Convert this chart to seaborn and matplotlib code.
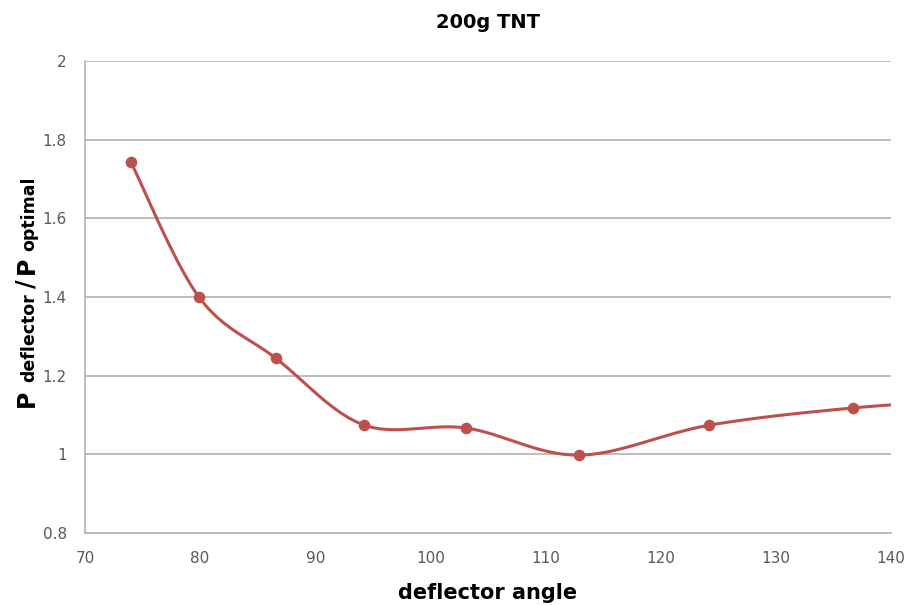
import matplotlib
matplotlib.use("Agg")
import matplotlib.pyplot as plt
import numpy as np
import pandas as pd
import seaborn as sns

# measured points (last one sits past the right edge, it only shapes the curve)
angle = [74.0, 79.9, 86.6, 94.2, 103.1, 112.9, 124.2, 136.7, 149.0]
ratio = [1.743, 1.400, 1.244, 1.075, 1.067, 0.998, 1.074, 1.118, 1.142]

# y label is drawn in pieces: (text, size, gap after in px)
ylabel_parts = [("P", 17, 8), ("deflector", 12.5, 5), ("/", 17, 6), ("P", 17, 5), ("optimal", 12.5, 0)]

COLOR = "#BC504D"
GRID = "#B3B3B3"
TEXT = "#595959"


def excel_smooth(x, y, n=40):
    # Catmull-Rom style bezier, the way spreadsheet "smoothed lines" look
    x, y = np.asarray(x), np.asarray(y)
    px = np.r_[x[0], x, x[-1]]
    py = np.r_[y[0], y, y[-1]]
    xs, ys = [], []
    t = np.linspace(0, 1, n)
    for i in range(1, len(px) - 2):
        p0 = np.array([px[i], py[i]])
        p3 = np.array([px[i + 1], py[i + 1]])
        c1 = p0 + (p3 - np.array([px[i - 1], py[i - 1]])) / 6
        c2 = p3 - (np.array([px[i + 2], py[i + 2]]) - p0) / 6
        b = ((1 - t) ** 3)[:, None] * p0 + (3 * (1 - t) ** 2 * t)[:, None] * c1 \
            + (3 * (1 - t) * t ** 2)[:, None] * c2 + (t ** 3)[:, None] * p3
        xs.append(b[:, 0])
        ys.append(b[:, 1])
    return np.concatenate(xs), np.concatenate(ys)


sns.set_style("white")
plt.rcParams["font.family"] = ["DejaVu Sans"]

df = pd.DataFrame({"angle": angle, "ratio": ratio})
sx, sy = excel_smooth(angle, ratio)

W, H = 909, 606
fig = plt.figure(figsize=(W / 100, H / 100), dpi=100)
ax = fig.add_axes([0.0935, 0.1205, 0.8865, 0.7785])
ax.plot(sx, sy, color=COLOR, lw=2.2, zorder=3, solid_capstyle="round")
sns.scatterplot(df, x="angle", y="ratio", color=COLOR, s=70, edgecolor=COLOR,
                linewidth=0, zorder=4, ax=ax)

ax.set_xlim(70, 140)
ax.set_ylim(0.8, 2.0)
ax.set_xticks(np.arange(70, 141, 10))
ax.set_yticks([0.8, 1.0, 1.2, 1.4, 1.6, 1.8, 2.0])
ax.set_yticklabels(["0.8", "1", "1.2", "1.4", "1.6", "1.8", "2"])
ax.yaxis.grid(True, color=GRID, lw=1.2)
ax.xaxis.grid(False)
for side in ["top", "right"]:
    ax.spines[side].set_visible(False)
for side in ["left", "bottom"]:
    ax.spines[side].set_color(GRID)
    ax.spines[side].set_linewidth(1.2)
ax.tick_params(axis="both", which="major", direction="out", length=5, width=1,
               color=GRID, labelcolor=TEXT, labelsize=11, pad=8)

ax.set_title("200g TNT", fontsize=14, fontweight="bold", pad=24, color="black")
ax.set_xlabel("deflector angle", fontsize=15, fontweight="bold", labelpad=12,
              color="black")
ax.set_ylabel("")

# compose rotated y label from mixed-size pieces
fig.canvas.draw()
renderer = fig.canvas.get_renderer()
texts, lengths = [], []
for s, size, gap in ylabel_parts:
    t = fig.text(0, 0, s, rotation=90, rotation_mode="anchor", ha="left",
                 va="baseline", fontsize=size, fontweight="bold", color="black")
    ext = t.get_window_extent(renderer)
    texts.append(t)
    lengths.append(ext.height + gap)
total = sum(lengths)
base_x = 34  # baseline, px from left
y0 = (H - 292) - total / 2  # centre at 292 px from top
for t, ln in zip(texts, lengths):
    t.set_position((base_x / W, y0 / H))
    y0 += ln

fig.savefig("out.png", dpi=100)
